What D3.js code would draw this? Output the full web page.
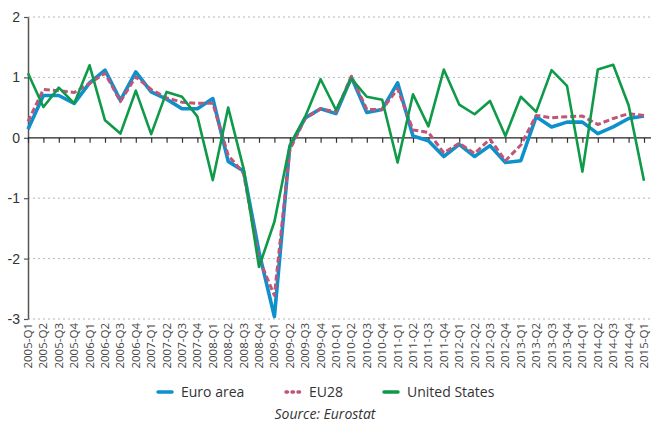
<!DOCTYPE html>
<html>
<head>
<meta charset="utf-8">
<script src="https://cdn.jsdelivr.net/npm/d3@7"></script>
<style>
  body { margin: 0; background: #fff; }
  svg { display: block; font-family: "Open Sans", "Noto Sans", sans-serif; }
</style>
</head>
<body>
<div id="chart"></div>
<script>
// quarters 2005-Q1 .. 2015-Q1
let quarters = [];
for (let y = 2005; y <= 2015; y++) {
    for (let q = 1; q <= 4; q++) {
        if (y === 2015 && q > 1) break;
        quarters.push(y + "-Q" + q);
    }
}

let euroArea = [0.14, 0.70, 0.70, 0.57, 0.91, 1.12, 0.62, 1.09, 0.76, 0.64, 0.48,
    0.48, 0.65, -0.39, -0.55, -1.89, -2.96, -0.15, 0.33, 0.48, 0.40,
    1.00, 0.42, 0.47, 0.91, 0.03, -0.05, -0.31, -0.11, -0.31, -0.13,
    -0.41, -0.38, 0.35, 0.18, 0.26, 0.26, 0.07, 0.18, 0.32, 0.36];

let eu28 = [0.27, 0.80, 0.78, 0.75, 0.90, 1.07, 0.60, 1.01, 0.80, 0.66, 0.59,
    0.57, 0.57, -0.29, -0.59, -2.00, -2.61, -0.20, 0.32, 0.48, 0.43,
    1.02, 0.47, 0.47, 0.81, 0.13, 0.09, -0.25, -0.09, -0.26, -0.02,
    -0.38, -0.12, 0.37, 0.33, 0.35, 0.36, 0.22, 0.32, 0.40, 0.37];

let unitedStates = [1.07, 0.51, 0.83, 0.57, 1.20, 0.29, 0.07, 0.78, 0.06, 0.76, 0.68,
    0.35, -0.70, 0.50, -0.51, -2.14, -1.39, -0.12, 0.35, 0.97, 0.46,
    0.98, 0.68, 0.63, -0.41, 0.72, 0.19, 1.13, 0.55, 0.39, 0.61,
    0.03, 0.68, 0.43, 1.12, 0.86, -0.56, 1.13, 1.21, 0.54, -0.71];

let yTicks = [2, 1, 0, -1, -2, -3];

let series = [
    { name: "Euro area", values: euroArea, color: "#0d90cc", width: 3.6, dash: null },
    { name: "EU28", values: eu28, color: "#bf5677", width: 3, dash: "6,3" },
    { name: "United States", values: unitedStates, color: "#0e9a49", width: 2.6, dash: null }
];

let W = 651, H = 426;
let margin = { top: 17, right: 7, bottom: 107, left: 28 };

let svg = d3.select("#chart").append("svg")
    .attr("width", W)
    .attr("height", H);

let x = d3.scalePoint()
    .domain(quarters)
    .range([margin.left, W - margin.right]);

let y = d3.scaleLinear()
    .domain([-3, 2])
    .range([H - margin.bottom, margin.top]);

// dotted gridlines
svg.append("g")
    .selectAll("line")
    .data(yTicks.filter(d => d !== 0))
    .enter().append("line")
    .attr("x1", margin.left)
    .attr("x2", W)
    .attr("y1", d => y(d))
    .attr("y2", d => y(d))
    .attr("stroke", "#b8b8b8")
    .attr("stroke-width", 1)
    .attr("stroke-dasharray", "2,3");

// y axis
let yAxis = svg.append("g")
    .attr("transform", "translate(" + margin.left + ",0)")
    .call(d3.axisLeft(y).tickValues(yTicks).tickSize(4).tickSizeOuter(0).tickFormat(d3.format("d")));
yAxis.select(".domain").attr("stroke", "#555").attr("stroke-width", 1.5);
yAxis.selectAll(".tick line").attr("stroke", "#555").attr("stroke-width", 1.2);
yAxis.selectAll(".tick text")
    .attr("x", -8)
    .attr("fill", "#333")
    .style("font-size", "14px")
    .text(d => d < 0 ? "-" + Math.abs(d) : d);

// zero line with quarter ticks
let xAxis = svg.append("g")
    .attr("transform", "translate(0," + y(0) + ")")
    .call(d3.axisBottom(x).tickSize(5).tickSizeOuter(0).tickFormat(""));
xAxis.select(".domain").remove();
xAxis.selectAll(".tick line").attr("stroke", "#333").attr("stroke-width", 1.2);
svg.append("line")
    .attr("x1", margin.left).attr("x2", W)
    .attr("y1", y(0)).attr("y2", y(0))
    .attr("stroke", "#222").attr("stroke-width", 1.3);

// rotated quarter labels under the plot
svg.append("g")
    .selectAll("text")
    .data(quarters)
    .enter().append("text")
    .attr("transform", d => "translate(" + (x(d) + 4) + "," + (H - margin.bottom + 4) + ") rotate(-90)")
    .attr("text-anchor", "end")
    .attr("fill", "#444")
    .style("font-size", "11.5px")
    .text(d => d);

// lines
let line = d3.line()
    .x((d, i) => x(quarters[i]))
    .y(d => y(d));

series.forEach(function (s) {
    svg.append("path")
        .datum(s.values)
        .attr("fill", "none")
        .attr("stroke", s.color)
        .attr("stroke-width", s.width)
        .attr("stroke-linejoin", "round")
        .attr("stroke-dasharray", s.dash)
        .attr("d", line);
});

// legend
let legendX = [157, 285, 383];
let legend = svg.append("g");
series.forEach(function (s, i) {
    let g = legend.append("g").attr("transform", "translate(" + legendX[i] + ",392)");
    g.append("line")
        .attr("x1", 1).attr("x2", 15)
        .attr("stroke", s.color)
        .attr("stroke-width", 3.5)
        .attr("stroke-linecap", "round")
        .attr("stroke-dasharray", s.dash ? "1.5,4.5" : null);
    g.append("text")
        .attr("x", 24)
        .attr("dy", "0.35em")
        .attr("fill", "#333")
        .style("font-size", "14px")
        .text(s.name);
});

svg.append("text")
    .attr("x", 325)
    .attr("y", 419)
    .attr("text-anchor", "middle")
    .attr("fill", "#333")
    .style("font-size", "14px")
    .style("font-style", "italic")
    .text("Source: Eurostat");
</script>
</body>
</html>
